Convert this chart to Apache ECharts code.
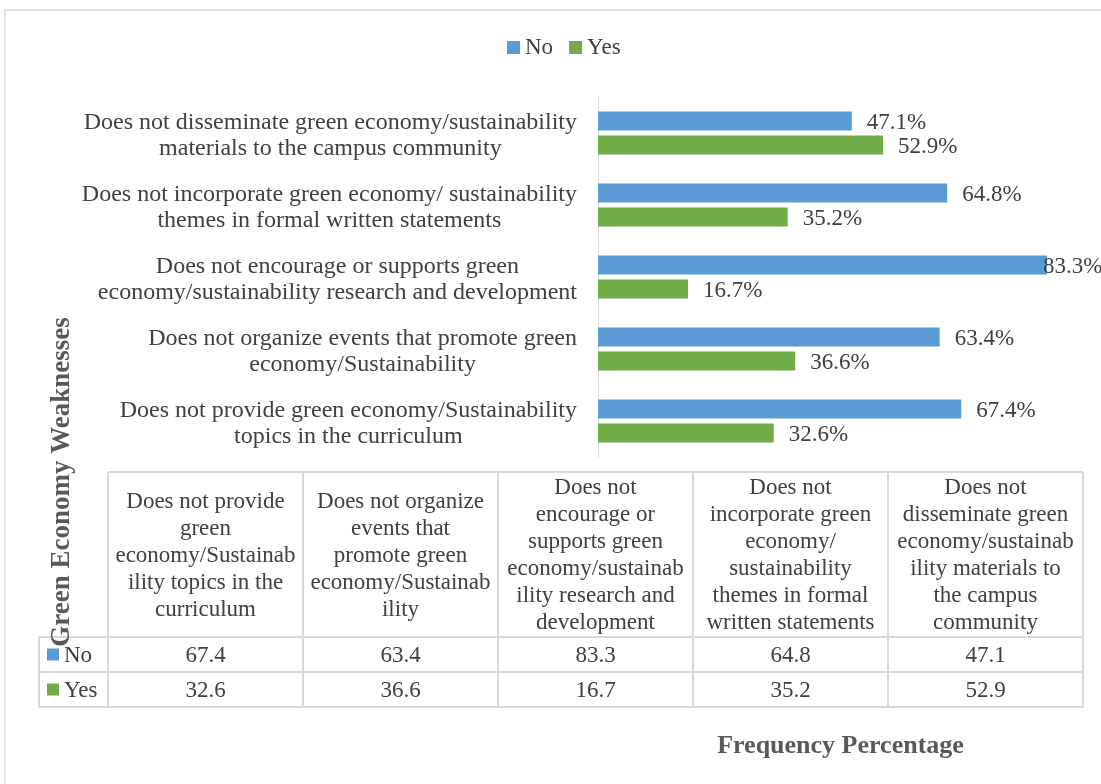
<!DOCTYPE html>
<html>
<head>
<meta charset="utf-8">
<script src="https://cdn.jsdelivr.net/npm/echarts@6/dist/echarts.min.js"></script>
<style>
html,body{margin:0;padding:0;background:#fff;}
#c{width:1101px;height:784px;}
</style>
</head>
<body>
<div id="c"></div>
<script>
// ---- data ----
const categories = [
  "Does not provide green economy/Sustainability\ntopics in the curriculum",
  "Does not organize events that promote green\neconomy/Sustainability",
  "Does not encourage or supports green\neconomy/sustainability research and development",
  "Does not incorporate green economy/ sustainability\nthemes in formal written statements",
  "Does not disseminate green economy/sustainability\nmaterials to the campus community"
];
const tableHeaders = [
  "Does not provide\ngreen\neconomy/Sustainab\nility topics in the\ncurriculum",
  "Does not organize\nevents that\npromote green\neconomy/Sustainab\nility",
  "Does not\nencourage or\nsupports green\neconomy/sustainab\nility research and\ndevelopment",
  "Does not\nincorporate green\neconomy/\nsustainability\nthemes in formal\nwritten statements",
  "Does not\ndisseminate green\neconomy/sustainab\nility materials to\nthe campus\ncommunity"
];
const seriesNames = ["No", "Yes"];
const noValues = [67.4, 63.4, 83.3, 64.8, 47.1];
const yesValues = [32.6, 36.6, 16.7, 35.2, 52.9];
const xTitle = "Frequency Percentage";
const yTitle = "Green Economy Weaknesses";

// ---- styles ----
const FONT = "'Liberation Serif', 'Times New Roman', serif";
const TEXT = '#404040';
const GRIDC = '#d9d9d9';
const colors = ['#5B9BD5', '#70AD47'];

function barData(vals) {
  return vals.map(v => v > 80 ? { value: v, label: { distance: -4 } } : v);
}

// ---- table graphic ----
const tLeft = 108, colW = 195, tTop = 472, hdrBottom = 637, rowH = 35, keyLeft = 39;
const tbl = [];
const line = (x1, y1, x2, y2) => tbl.push({
  type: 'line', shape: { x1, y1, x2, y2 }, style: { stroke: GRIDC, lineWidth: 2 }, silent: true
});
const tRight = tLeft + colW * 5;
const tBottom = hdrBottom + rowH * 2;
line(tLeft, tTop, tRight, tTop);
line(keyLeft, hdrBottom, tRight, hdrBottom);
line(keyLeft, hdrBottom + rowH, tRight, hdrBottom + rowH);
line(keyLeft, tBottom, tRight, tBottom);
line(keyLeft, hdrBottom, keyLeft, tBottom);
for (let i = 0; i <= 5; i++) line(tLeft + i * colW, tTop, tLeft + i * colW, tBottom);
tableHeaders.forEach((h, i) => {
  tbl.push({ type: 'text', x: tLeft + colW * i + colW / 2, y: (tTop + hdrBottom) / 2 + 1,
    style: { text: h, fill: TEXT, font: "23px " + FONT, align: 'center', verticalAlign: 'middle', lineHeight: 27 }, silent: true });
});
[noValues, yesValues].forEach((vals, r) => {
  const cy = hdrBottom + rowH * r + rowH / 2;
  tbl.push({ type: 'rect', shape: { x: 47, y: cy - 6, width: 12, height: 12 }, style: { fill: colors[r] }, silent: true });
  tbl.push({ type: 'text', x: 64, y: cy + 1, style: { text: seriesNames[r], fill: TEXT, font: "23px " + FONT, align: 'left', verticalAlign: 'middle' }, silent: true });
  vals.forEach((v, i) => {
    tbl.push({ type: 'text', x: tLeft + colW * i + colW / 2, y: cy + 1,
      style: { text: v.toFixed(1), fill: TEXT, font: "23px " + FONT, align: 'center', verticalAlign: 'middle' }, silent: true });
  });
});

const chart = echarts.init(document.getElementById('c'), null, { renderer: 'canvas' });
chart.setOption({
  animation: false,
  backgroundColor: '#fff',
  textStyle: { fontFamily: FONT },
  legend: {
    data: seriesNames,
    left: 507, top: 36, padding: 0,
    icon: 'rect', itemWidth: 13, itemHeight: 13, itemGap: 16,
    textStyle: { fontFamily: FONT, fontSize: 23, color: TEXT }
  },
  grid: { left: 598, right: 18, top: 97, bottom: 327, containLabel: false },
  xAxis: {
    type: 'value', min: 0, max: 90,
    axisLine: { show: false }, axisTick: { show: false }, axisLabel: { show: false }, splitLine: { show: false },
    name: xTitle, nameLocation: 'middle', nameGap: 276,
    nameTextStyle: { fontFamily: FONT, fontSize: 26, fontWeight: 'bold', color: '#595959' }
  },
  yAxis: {
    type: 'category', data: categories,
    axisLine: { show: true, lineStyle: { color: GRIDC, width: 1 } },
    axisTick: { show: false },
    axisLabel: {
      margin: 21, fontFamily: FONT, fontSize: 24, color: TEXT, lineHeight: 26, padding: [5, 0, 0, 0],
      formatter: v => v.split('\n').map(s => '{c|' + s + '}').join('\n'),
      rich: { c: { align: 'center', fontFamily: FONT, fontSize: 24, color: TEXT, lineHeight: 26 } }
    }
  },
  series: [
    { name: seriesNames[0], type: 'bar', data: barData(noValues), barWidth: 19, barGap: '26%',
      itemStyle: { color: colors[0] },
      label: { show: true, position: 'right', distance: 15, offset: [0, 2], formatter: p => p.value.toFixed(1) + '%', fontFamily: FONT, fontSize: 23, color: TEXT } },
    { name: seriesNames[1], type: 'bar', data: barData(yesValues), barWidth: 19, barGap: '26%',
      itemStyle: { color: colors[1] },
      label: { show: true, position: 'right', distance: 15, offset: [0, 2], formatter: p => p.value.toFixed(1) + '%', fontFamily: FONT, fontSize: 23, color: TEXT } }
  ],
  graphic: [
    { type: 'rect', shape: { x: 5, y: 10, width: 1200, height: 1000 }, style: { fill: 'none', stroke: GRIDC, lineWidth: 1.5 }, silent: true, z: -1 },
    { type: 'group', children: tbl },
    { type: 'text', x: 62, y: 482, rotation: Math.PI / 2,
      style: { text: yTitle, fill: '#595959', font: "bold 27px " + FONT, align: 'center', verticalAlign: 'middle' }, silent: true }
  ]
});
</script>
</body>
</html>
